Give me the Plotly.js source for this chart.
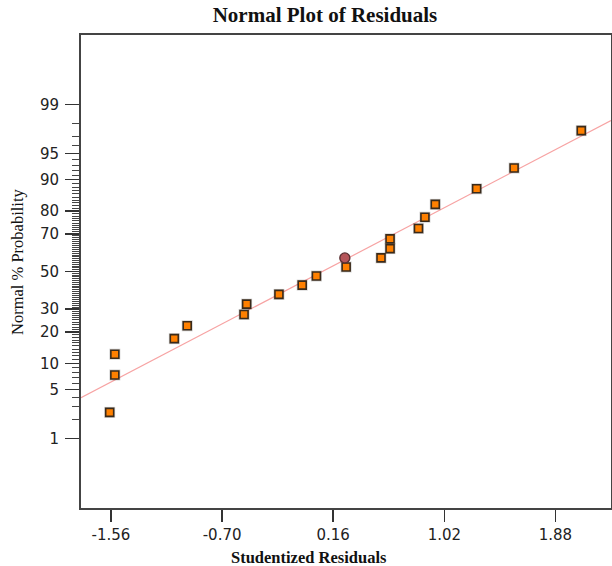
<!DOCTYPE html>
<html>
<head>
<meta charset="utf-8">
<script src="https://cdn.plot.ly/plotly-3.0.1.min.js"></script>
<style>html,body{margin:0;padding:0;background:#fff;}#chart{width:612px;height:566px;}</style>
</head>
<body>
<div id="chart"></div>
<script>
// ---- data ----
const residuals = [-1.57, -1.53, -1.53, -1.07, -0.97, -0.53, -0.51, -0.26, -0.08, 0.03,
                   0.26, 0.53, 0.60, 0.60, 0.82, 0.87, 0.95, 1.27, 1.56, 2.08];
const probPct   = [2.5, 7.5, 12.5, 17.5, 22.5, 27.5, 32.5, 37.5, 42.5, 47.5,
                   52.5, 57.5, 62.5, 67.5, 72.5, 77.5, 82.5, 87.5, 92.5, 97.5];
const highlightX = [0.25];
const highlightP = [57.5];
const yTickPct  = [1, 5, 10, 20, 30, 50, 70, 80, 90, 95, 99];
const xTickVals = [-1.56, -0.70, 0.16, 1.02, 1.88];
const xTickText = ["-1.56", "-0.70", "0.16", "1.02", "1.88"];
const xRange = [-1.792, 2.31];
const pRange = [0.05, 99.95];

// inverse standard normal (Acklam)
function probit(p) {
  const a = [-3.969683028665376e+01, 2.209460984245205e+02, -2.759285104469687e+02, 1.383577518672690e+02, -3.066479806614716e+01, 2.506628277459239e+00];
  const b = [-5.447609879822406e+01, 1.615858368580409e+02, -1.556989798598866e+02, 6.680131188771972e+01, -1.328068155288572e+01];
  const c = [-7.784894002430293e-03, -3.223964580411365e-01, -2.400758277161838e+00, -2.549732539343734e+00, 4.374664141464968e+00, 2.938163982698783e+00];
  const d = [7.784695709041462e-03, 3.224671290700398e-01, 2.445134137142996e+00, 3.754408661907416e+00];
  const pl = 0.02425, ph = 1 - pl;
  let q, r;
  if (p < pl) { q = Math.sqrt(-2 * Math.log(p)); return (((((c[0]*q+c[1])*q+c[2])*q+c[3])*q+c[4])*q+c[5]) / ((((d[0]*q+d[1])*q+d[2])*q+d[3])*q+1); }
  if (p <= ph) { q = p - 0.5; r = q*q; return (((((a[0]*r+a[1])*r+a[2])*r+a[3])*r+a[4])*r+a[5])*q / (((((b[0]*r+b[1])*r+b[2])*r+b[3])*r+b[4])*r+1); }
  q = Math.sqrt(-2 * Math.log(1 - p)); return -(((((c[0]*q+c[1])*q+c[2])*q+c[3])*q+c[4])*q+c[5]) / ((((d[0]*q+d[1])*q+d[2])*q+d[3])*q+1);
}
const z = p => probit(p / 100);

// reference line through mean with slope 1/sd
const n = residuals.length;
const mean = residuals.reduce((s, v) => s + v, 0) / n;
const sd = Math.sqrt(residuals.reduce((s, v) => s + (v - mean) ** 2, 0) / (n - 1));
const lineX = xRange.slice();
const lineY = lineX.map(x => (x - mean) / sd);

const minorPct = [];
for (let i = 2; i <= 98; i++) if (!yTickPct.includes(i)) minorPct.push(i);

const traces = [
  { x: lineX, y: lineY, mode: 'lines', line: { color: '#f7a3a3', width: 1.2 }, hoverinfo: 'skip' },
  { x: residuals, y: probPct.map(z), mode: 'markers',
    marker: { symbol: 'square', size: 11, color: 'rgba(0,0,0,0.18)', line: { width: 0 } }, hoverinfo: 'skip' },
  { x: residuals, y: probPct.map(z), mode: 'markers',
    marker: { symbol: 'square', size: 8, color: '#ff8000', line: { color: '#3a2a1a', width: 1.6 } } },
  { x: highlightX, y: highlightP.map(z), mode: 'markers',
    marker: { symbol: 'circle', size: 10, color: '#b5555a', line: { color: '#5a3033', width: 1.4 } } }
];

const tickFont = { family: 'DejaVu Sans, Liberation Sans, Arial', size: 15, color: '#222' };

const layout = {
  width: 612, height: 566,
  margin: { l: 81, r: 1, t: 35, b: 58 },
  paper_bgcolor: '#fff', plot_bgcolor: '#fff',
  showlegend: false,
  title: { text: 'Normal Plot of Residuals', font: { family: 'Liberation Serif, Times New Roman, serif', size: 21, color: '#111', weight: 'bold' },
           x: 325 / 612, xanchor: 'center', xref: 'container', y: 1 - 15 / 566, yanchor: 'middle', yref: 'container' },
  xaxis: {
    range: xRange, tickmode: 'array', tickvals: xTickVals, ticktext: xTickText,
    ticks: 'outside', ticklen: 12, tickwidth: 1.5, tickcolor: '#333',
    showline: true, linecolor: '#444', linewidth: 2, mirror: true,
    showgrid: false, zeroline: false, tickfont: tickFont, automargin: false
  },
  yaxis: {
    range: pRange.map(z), tickmode: 'array', tickvals: yTickPct.map(z), ticktext: yTickPct.map(String),
    ticks: 'outside', ticklen: 14, tickwidth: 1.5, tickcolor: '#333', ticklabelstandoff: 3,
    minor: { tickmode: 'array', tickvals: minorPct.map(z), ticks: 'outside', ticklen: 7, tickwidth: 1, tickcolor: '#444' },
    showline: true, linecolor: '#444', linewidth: 2, mirror: true,
    showgrid: false, zeroline: false, tickfont: tickFont, automargin: false
  },
  annotations: [
    { text: '<b>Studentized Residuals</b>', xref: 'paper', yref: 'paper', x: (309 - 81) / 530, y: -(557 - 508) / 473,
      xanchor: 'center', yanchor: 'middle', showarrow: false,
      font: { family: 'Liberation Serif, Times New Roman, serif', size: 16.5, color: '#111' } },
    { text: 'Normal % Probability', xref: 'paper', yref: 'paper', x: (17 - 81) / 530, y: (508 - 262) / 473,
      xanchor: 'center', yanchor: 'middle', textangle: -90, showarrow: false,
      font: { family: 'Liberation Serif, Times New Roman, serif', size: 16.5, color: '#111' } }
  ]
};

Plotly.newPlot('chart', traces, layout, { displayModeBar: false, staticPlot: true });
</script>
</body>
</html>
